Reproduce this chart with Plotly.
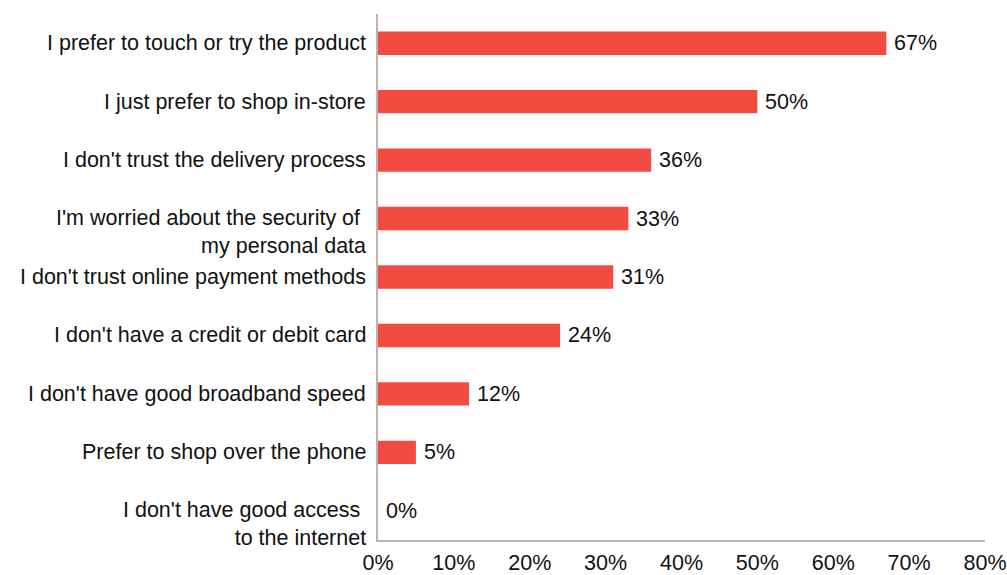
import plotly.graph_objects as go

# Reasons for not shopping online (share of respondents, %)
reasons = [
    "I prefer to touch or try the product",
    "I just prefer to shop in-store",
    "I don't trust the delivery process",
    "I'm worried about the security of <br>my personal data",
    "I don't trust online payment methods",
    "I don't have a credit or debit card",
    "I don't have good broadband speed",
    "Prefer to shop over the phone",
    "I don't have good access <br>to the internet",
]
shares = [67, 50, 36, 33, 31, 24, 12, 5, 0]
x_ticks = [0, 10, 20, 30, 40, 50, 60, 70, 80]

BAR = "#f24c42"
AXIS = "#bdb4ad"
FONT = "Liberation Sans, Arial, sans-serif"
FS = 21.5

fig = go.Figure(
    go.Bar(
        x=shares,
        y=reasons,
        orientation="h",
        marker=dict(color=BAR, line=dict(width=0)),
        hoverinfo="skip",
    )
)

annotations = []
for label, val in zip(reasons, shares):
    two_lines = "<br>" in label
    # category label to the left of the axis
    annotations.append(dict(
        x=0, xref="paper", y=label, yref="y",
        text=label, showarrow=False, xanchor="right", yanchor="middle",
        align="right", xshift=-10, yshift=-13 if two_lines else 0,
        font=dict(size=FS, color="#111111", family=FONT),
    ))
    # value label after the bar end
    annotations.append(dict(
        x=val, xref="x", y=label, yref="y",
        text=f"{val}%", showarrow=False, xanchor="left", yanchor="middle",
        xshift=6,
        font=dict(size=FS, color="#111111", family=FONT),
    ))

fig.update_layout(
    width=1007, height=575,
    margin=dict(l=378, r=22, t=14, b=35, autoexpand=False),
    paper_bgcolor="white", plot_bgcolor="white",
    bargap=0.6,
    showlegend=False,
    font=dict(family=FONT, size=FS, color="#111111"),
    annotations=annotations,
    xaxis=dict(
        range=[0, 80], tickvals=x_ticks,
        ticktext=[f"{v}%" for v in x_ticks],
        showgrid=False, zeroline=False, automargin=False,
        showline=True, linecolor=AXIS, linewidth=2,
        ticks="", ticklabelstandoff=2,
        tickfont=dict(size=FS, color="#111111", family=FONT),
    ),
    yaxis=dict(
        categoryorder="array", categoryarray=reasons,
        autorange="reversed", automargin=False,
        showticklabels=False, showgrid=False, zeroline=False,
        showline=True, linecolor=AXIS, linewidth=2, ticks="",
    ),
)

fig.write_html("out.html")
